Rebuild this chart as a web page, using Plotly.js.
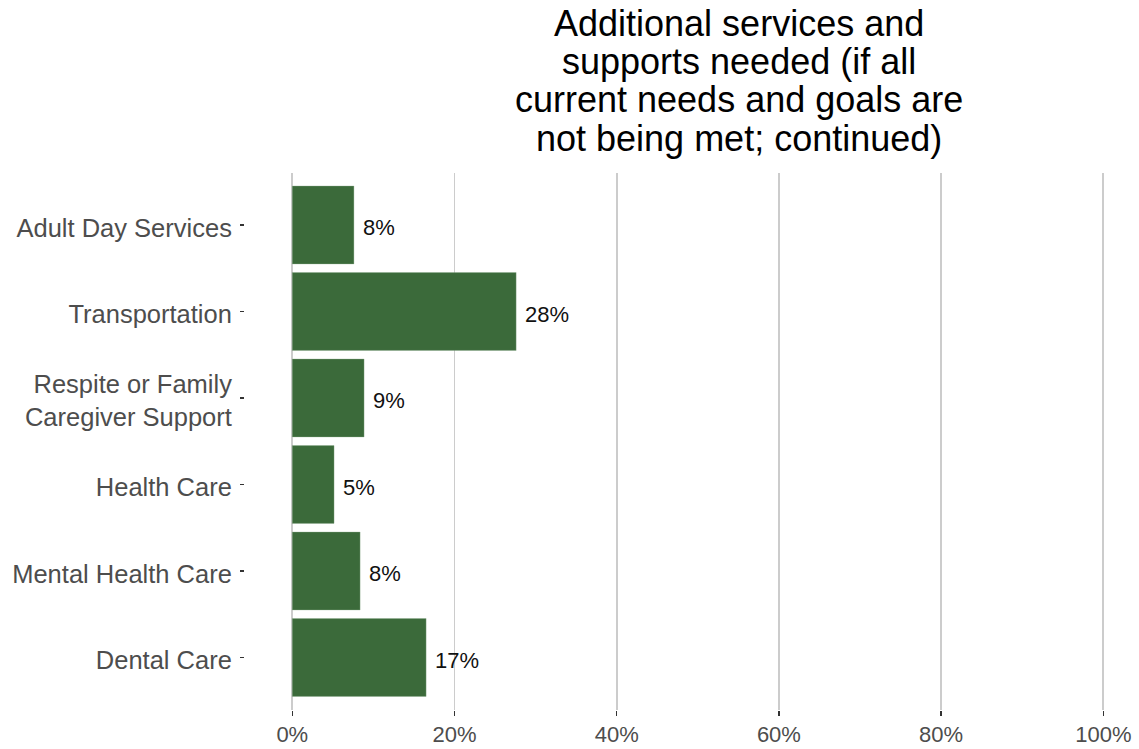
<!DOCTYPE html>
<html>
<head>
<meta charset="utf-8">
<script src="https://cdn.plot.ly/plotly-3.0.1.min.js"></script>
<style>
  html, body { margin: 0; padding: 0; background: #ffffff; }
  #chart { width: 1139px; height: 749px; }
</style>
</head>
<body>
<div id="chart"></div>
<script>
const categories = [
  "Adult Day Services",
  "Transportation",
  "Respite or Family<br>Caregiver Support",
  "Health Care",
  "Mental Health Care",
  "Dental Care"
];
const values = [0.076, 0.276, 0.0885, 0.0515, 0.0836, 0.165];
const valueLabels = ["8%", "28%", "9%", "5%", "8%", "17%"];
const tickValues = [0, 0.2, 0.4, 0.6, 0.8, 1.0];
const tickLabels = ["0%", "20%", "40%", "60%", "80%", "100%"];
const titleLines = [
  "Additional services and",
  "supports needed (if all",
  "current needs and goals are",
  "not being met; continued)"
];

const W = 1139, H = 749;
const mL = 245, mR = 0, mT = 173, mB = 39;
const plotH = H - mT - mB;

const trace = {
  type: "bar",
  orientation: "h",
  x: values,
  y: categories,
  width: 0.9,
  marker: { color: "rgb(59,106,58)", line: { color: "rgba(140,170,140,0.6)", width: 0.6 } },
  hoverinfo: "none"
};

const annotations = [];
values.forEach((v, i) => {
  annotations.push({
    x: v, y: categories[i], xref: "x", yref: "y",
    text: valueLabels[i], showarrow: false,
    xanchor: "left", yanchor: "middle", xshift: 7, yshift: -3,
    font: { family: "Liberation Sans, Arial, sans-serif", size: 22, color: "#111111" }
  });
});

const titleX = (739 - mL) / (W - mL - mR);
const titleBaselinesPx = [36, 74, 112, 150];
titleLines.forEach((line, i) => {
  const centerPx = titleBaselinesPx[i] - 12;
  annotations.push({
    x: titleX, y: (H - mB - centerPx) / plotH, xref: "paper", yref: "paper",
    text: line, showarrow: false, xanchor: "center", yanchor: "middle",
    font: { family: "Liberation Sans, Arial, sans-serif", size: 36, color: "#000000" }
  });
});

const layout = {
  width: W, height: H,
  margin: { l: mL, r: mR, t: mT, b: mB, pad: 0 },
  paper_bgcolor: "#ffffff",
  plot_bgcolor: "#ffffff",
  showlegend: false,
  font: { family: "Liberation Sans, Arial, sans-serif" },
  xaxis: {
    range: [-0.0583, 1.044],
    tickvals: tickValues,
    ticktext: tickLabels,
    showgrid: true,
    gridcolor: "#cccccc",
    gridwidth: 1.8,
    zeroline: false,
    showline: false,
    ticks: "outside",
    ticklen: 5,
    tickwidth: 1.5,
    tickcolor: "#333333",
    tickfont: { family: "Liberation Sans, Arial, sans-serif", size: 22, color: "#4d4d4d" },
    fixedrange: true
  },
  yaxis: {
    type: "category",
    categoryorder: "array",
    categoryarray: categories,
    range: [5.607, -0.601],
    showgrid: false,
    zeroline: false,
    showline: false,
    ticks: "outside",
    ticklen: 4,
    tickwidth: 1.5,
    tickcolor: "#333333",
    ticklabelstandoff: 3,
    ticklabelshift: -3,
    tickfont: { family: "Liberation Sans, Arial, sans-serif", size: 25.5, color: "#4d4d4d" },
    fixedrange: true
  },
  annotations: annotations
};

Plotly.newPlot("chart", [trace], layout, { displayModeBar: false, staticPlot: true });
</script>
</body>
</html>
